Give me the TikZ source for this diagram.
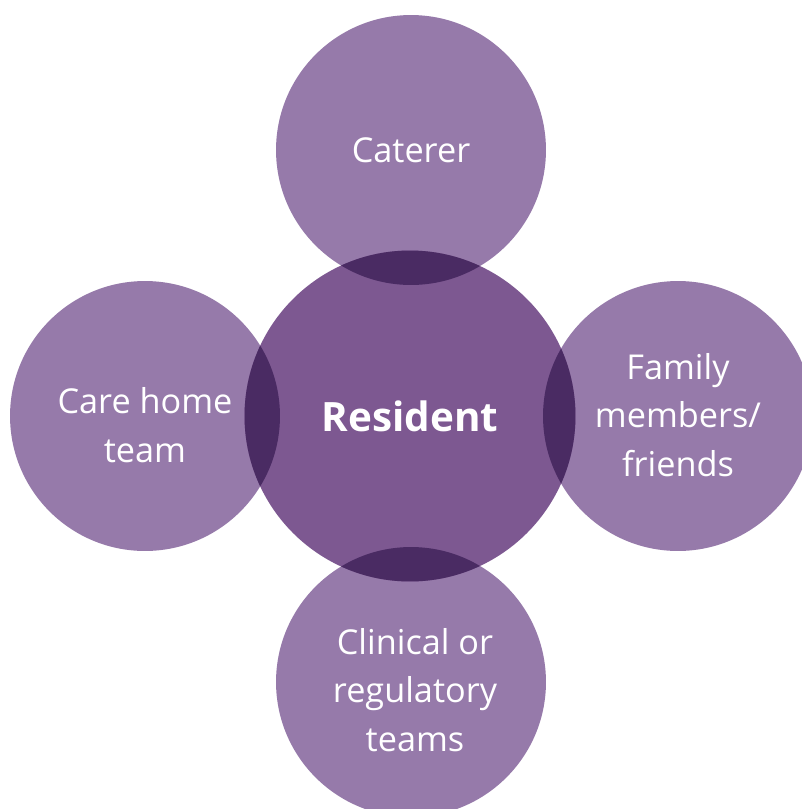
\documentclass[tikz,border=0pt]{standalone}
\usepackage{fontspec}
\setmainfont{Open Sans}
\usepackage{tikz}
\usetikzlibrary{positioning}
\definecolor{outerc}{HTML}{967AAA}
\definecolor{midc}{HTML}{7D5891}
\definecolor{lensc}{HTML}{4A2B63}

\begin{document}
\begin{tikzpicture}[
x=0.02cm, y=-0.02cm,
oc/.style={circle, fill=outerc, minimum size=5.4cm, inner sep=0pt, text=white, align=center, font=\fontsize{19.5}{27.6}\selectfont},
mc/.style={circle, fill=midc, minimum size=6.62cm, inner sep=0pt, text=white, font=\fontsize{23}{28}\selectfont\bfseries}
]
\useasboundingbox (0,0) rectangle (802,809);
\clip (0,0) rectangle (802,809);
% outer circles
\node[oc] (cat) at (411,150) {};
\node[oc] (care) at (145,416) {};
\node[oc] (fam) at (678,416) {};
\node[oc] (clin) at (411,682) {};
% resident
\node[mc] (res) at (410,416) {};
% overlaps
\begin{scope}
\clip (res.center) circle (3.31cm);
\foreach \n in {cat,care,fam,clin}
  \fill[lensc] (\n.center) circle (2.7cm);
\end{scope}
% labels
\node[text=white, font=\fontsize{23}{28}\selectfont\bfseries] (resl) at (res.center) {Resident};
\node[oc, fill=none] (catl) at (cat.center) {Caterer};
\node[oc, fill=none] (carel) at (145,425) {Care home\\team};
\node[oc, fill=none] (faml) at (678,415) {Family\\members/\\friends};
\node[oc, fill=none] (clinl) at (415,690) {Clinical or\\regulatory\\teams};
\end{tikzpicture}
\end{document}
